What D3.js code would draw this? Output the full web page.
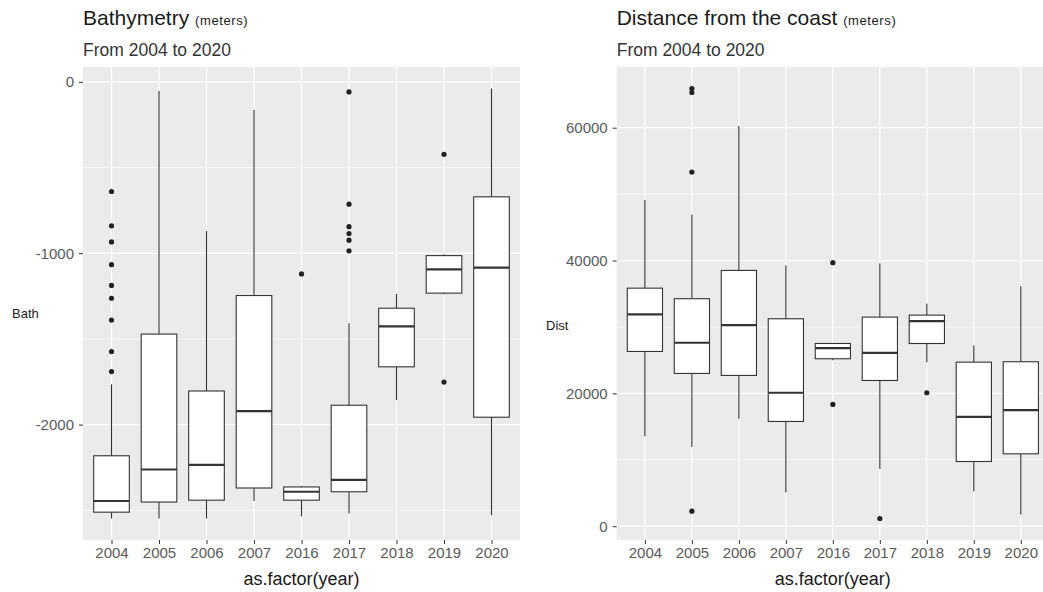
<!DOCTYPE html>
<html>
<head>
<meta charset="utf-8">
<script src="https://cdn.jsdelivr.net/npm/d3@7"></script>
<style>
  body { margin: 0; background: #fff; }
  svg { display: block; font-family: "Liberation Sans", Arial, sans-serif; }
</style>
</head>
<body>
<svg id="chart" width="1043" height="592"></svg>
<script>
// Categories
var years = ["2004", "2005", "2006", "2007", "2016", "2017", "2018", "2019", "2020"];

// Bathymetry five number summaries + outliers (meters)
var bathLow  = [-2548, -2548, -2548, -2446, -2535, -2519, -1857, -1240, -2529];
var bathQ1   = [-2511, -2452, -2441, -2370, -2441, -2392, -1663, -1233, -1957];
var bathMed  = [-2446, -2262, -2235, -1922, -2392, -2323, -1427, -1094, -1084];
var bathQ3   = [-2182, -1472, -1804, -1247, -2364, -1887, -1321, -1014, -671];
var bathHigh = [-1765, -53, -871, -164, -2358, -1409, -1237, -1006, -39];
var bathOut  = [[-640, -840, -934, -1067, -1188, -1263, -1390, -1574, -1691], [], [], [], [-1121],
                [-59, -714, -845, -885, -924, -986], [], [-423, -1752], []];
var bathTicks = [0, -1000, -2000];
var bathMinor = [-500, -1500, -2500];

// Distance from the coast (meters)
var distLow  = [13550, 11960, 16170, 5120, 25000, 8640, 24700, 5270, 1760];
var distQ1   = [26310, 23000, 22700, 15770, 25210, 21940, 27510, 9740, 10900];
var distMed  = [31880, 27620, 30270, 20090, 26810, 26110, 30870, 16470, 17470];
var distQ3   = [35840, 34250, 38510, 31230, 27510, 31480, 31780, 24700, 24760];
var distHigh = [49100, 46940, 60240, 39260, 27510, 39560, 33490, 27210, 36140];
var distOut  = [[], [65900, 65300, 53310, 2260], [], [], [39670, 18330], [1160], [20090], [], []];
var distTicks = [0, 20000, 40000, 60000];
var distMinor = [10000, 30000, 50000];

var svg = d3.select("#chart");
var font = '"Liberation Sans", Arial, sans-serif';

// Draws one ggplot-style boxplot panel
function drawPanel(opt) {
    var x = d3.scalePoint()
              .domain(years)
              .range([opt.left, opt.right])
              .padding(0.6);

    // y domain = data range expanded 5% each side (ggplot default)
    var all = opt.low.concat(opt.high, d3.merge(opt.out));
    var ext = d3.extent(all);
    var pad = (ext[1] - ext[0]) * 0.05;
    var y = d3.scaleLinear()
              .domain([ext[0] - pad, ext[1] + pad])
              .range([opt.bottom, opt.top]);

    var g = svg.append("g");

    // Panel background
    g.append("rect")
     .attr("x", opt.left).attr("y", opt.top)
     .attr("width", opt.right - opt.left)
     .attr("height", opt.bottom - opt.top)
     .attr("fill", "#EBEBEB");

    // Minor grid
    g.selectAll(".minor")
     .data(opt.minor)
     .enter().append("line")
        .attr("x1", opt.left).attr("x2", opt.right)
        .attr("y1", function(d) { return y(d); })
        .attr("y2", function(d) { return y(d); })
        .attr("stroke", "#fff").attr("stroke-width", 0.6);

    // Major grid
    g.selectAll(".major")
     .data(opt.ticks)
     .enter().append("line")
        .attr("x1", opt.left).attr("x2", opt.right)
        .attr("y1", function(d) { return y(d); })
        .attr("y2", function(d) { return y(d); })
        .attr("stroke", "#fff").attr("stroke-width", 1.2);

    g.selectAll(".vgrid")
     .data(years)
     .enter().append("line")
        .attr("x1", function(d) { return x(d); })
        .attr("x2", function(d) { return x(d); })
        .attr("y1", opt.top).attr("y2", opt.bottom)
        .attr("stroke", "#fff").attr("stroke-width", 1.2);

    var bw = x.step() * 0.75;
    var col = "#333333";

    years.forEach(function(yr, i) {
        var cx = x(yr);
        // whiskers
        g.append("line")
         .attr("x1", cx).attr("x2", cx)
         .attr("y1", y(opt.high[i])).attr("y2", y(opt.q3[i]))
         .attr("stroke", col).attr("stroke-width", 1.1);
        g.append("line")
         .attr("x1", cx).attr("x2", cx)
         .attr("y1", y(opt.q1[i])).attr("y2", y(opt.low[i]))
         .attr("stroke", col).attr("stroke-width", 1.1);
        // box
        g.append("rect")
         .attr("x", cx - bw/2).attr("y", y(opt.q3[i]))
         .attr("width", bw).attr("height", y(opt.q1[i]) - y(opt.q3[i]))
         .attr("fill", "#fff").attr("stroke", col).attr("stroke-width", 1.1);
        // median
        g.append("line")
         .attr("x1", cx - bw/2).attr("x2", cx + bw/2)
         .attr("y1", y(opt.med[i])).attr("y2", y(opt.med[i]))
         .attr("stroke", col).attr("stroke-width", 2.2);
        // outliers
        g.selectAll(null)
         .data(opt.out[i])
         .enter().append("circle")
            .attr("cx", cx)
            .attr("cy", function(d) { return y(d); })
            .attr("r", 2.6)
            .attr("fill", "#222");
    });

    // Axes (plain integer labels with ascii minus, like R)
    var yAxis = d3.axisLeft(y)
                  .tickValues(opt.ticks)
                  .tickFormat(function(d) { return String(d); })
                  .tickSize(4).tickPadding(5);
    var ya = g.append("g")
              .attr("transform", "translate(" + opt.left + ",0)")
              .call(yAxis);
    ya.select(".domain").remove();
    ya.selectAll("line").attr("stroke", col);
    ya.selectAll("text").attr("fill", "#5a5a5a")
      .style("font", "15px " + font);

    var xAxis = d3.axisBottom(x).tickSize(4).tickPadding(3);
    var xa = g.append("g")
              .attr("transform", "translate(0," + opt.bottom + ")")
              .call(xAxis);
    xa.select(".domain").remove();
    xa.selectAll("line").attr("stroke", col);
    xa.selectAll("text").attr("fill", "#5a5a5a")
      .style("font", "15px " + font);

    // Axis titles
    svg.append("text")
       .attr("x", (opt.left + opt.right) / 2)
       .attr("y", 585)
       .attr("text-anchor", "middle")
       .style("font", "18px " + font)
       .attr("fill", "#1a1a1a")
       .text("as.factor(year)");

    svg.append("text")
       .attr("x", opt.ylabX)
       .attr("y", opt.ylabY)
       .style("font", "13px " + font)
       .attr("fill", "#1a1a1a")
       .text(opt.ylab);

    // Title + subtitle
    var t = svg.append("text")
               .attr("x", opt.left)
               .attr("y", 25)
               .attr("fill", "#1a1a1a")
               .style("font", "21px " + font);
    t.append("tspan").text(opt.title + " ");
    t.append("tspan")
     .style("font-size", "13px")
     .attr("letter-spacing", "0.6")
     .text("(meters)");

    svg.append("text")
       .attr("x", opt.left)
       .attr("y", 56)
       .attr("fill", "#333")
       .style("font", "17.5px " + font)
       .text("From 2004 to 2020");
}

drawPanel({
    left: 83, right: 520, top: 67, bottom: 540,
    low: bathLow, q1: bathQ1, med: bathMed, q3: bathQ3, high: bathHigh, out: bathOut,
    ticks: bathTicks, minor: bathMinor,
    title: "Bathymetry", ylab: "Bath", ylabX: 12, ylabY: 318
});

drawPanel({
    left: 616.7, right: 1049, top: 67, bottom: 540,
    low: distLow, q1: distQ1, med: distMed, q3: distQ3, high: distHigh, out: distOut,
    ticks: distTicks, minor: distMinor,
    title: "Distance from the coast", ylab: "Dist", ylabX: 546, ylabY: 330
});
</script>
</body>
</html>
